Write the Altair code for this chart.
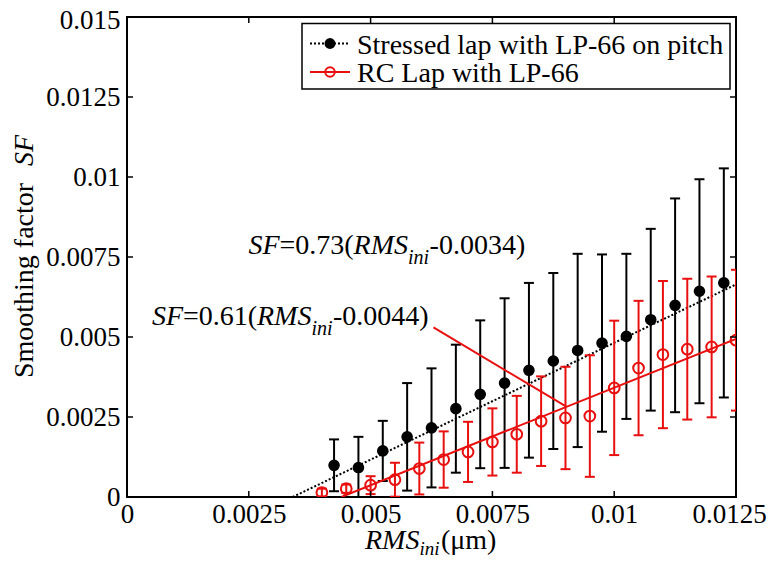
import altair as alt
import pandas as pd

# ---- data ----
black_x = [0.00425, 0.00475, 0.00525, 0.00575, 0.00625, 0.00675, 0.00725, 0.00775, 0.00825,
           0.00875, 0.00925, 0.00975, 0.01025, 0.01075, 0.01125, 0.01175, 0.01225]
black_y = [0.00099, 0.00092, 0.00144, 0.00188, 0.00216, 0.00276, 0.00321, 0.00356, 0.00396,
           0.00425, 0.00458, 0.00481, 0.00502, 0.00554, 0.00599, 0.00643, 0.00669]
black_err = [0.00081, 0.00096, 0.00094, 0.00168, 0.00186, 0.00200, 0.00231, 0.00265, 0.00273,
             0.00275, 0.00302, 0.00277, 0.00258, 0.00284, 0.00334, 0.00350, 0.00358]

red_x = [0.0040, 0.0045, 0.0050, 0.0055, 0.0060, 0.0065, 0.0070, 0.0075, 0.0080,
         0.0085, 0.0090, 0.0095, 0.0100, 0.0105, 0.0110, 0.0115, 0.0120, 0.0125]
red_y = [0.00014, 0.00026, 0.00037, 0.00054, 0.00089, 0.00117, 0.00141, 0.00172, 0.00196,
         0.00237, 0.00247, 0.00253, 0.00341, 0.00403, 0.00445, 0.00462, 0.00469, 0.00490]
red_err = [0.00012, 0.00013, 0.00028, 0.00053, 0.00081, 0.00088, 0.00094, 0.00105, 0.00120,
           0.00140, 0.00160, 0.00190, 0.00210, 0.00210, 0.00230, 0.00220, 0.00220, 0.00220]

# fitted lines (end points of SF = a (RMS - b))
fit_black_x = [0.0034, 0.0125]
fit_black_y = [0.0, 0.006643]
fit_red_x = [0.0044, 0.0125]
fit_red_y = [0.0, 0.004941]

# annotation pointer (from label to red fit line)
pointer = {"x1": 0.00629, "y1": 0.00530, "x2": 0.00901, "y2": 0.00283}

x_ticks = [0, 0.0025, 0.005, 0.0075, 0.01, 0.0125]
y_ticks = [0, 0.0025, 0.005, 0.0075, 0.01, 0.0125, 0.015]

legend_labels = ["Stressed lap with LP-66 on pitch", "RC Lap with LP-66"]

# ---- chart ----
FONT = "Liberation Serif, Times New Roman, Tinos, DejaVu Serif, serif"
W, H = 609, 480
RED = "#e8100f"

xscale = alt.Scale(domain=[0, 0.0125], nice=False, zero=False)
yscale = alt.Scale(domain=[0, 0.015], nice=False, zero=False)
xaxis = alt.Axis(values=x_ticks, format=".4~f", labelPadding=4, title=None,
                 labelOffset=alt.condition("datum.value > 0.012", alt.value(-7), alt.value(0)))
yaxis = alt.Axis(values=y_ticks, format=".4~f", labelPadding=7, title=None,
                 labelOffset=alt.condition("datum.value > 0.014", alt.value(3), alt.value(0)))


def X(f):
    return alt.X(f, type="quantitative", scale=xscale, axis=xaxis, title=None)


def Y(f):
    return alt.Y(f, type="quantitative", scale=yscale, axis=yaxis, title=None)


bdf = pd.DataFrame({"x": black_x, "y": black_y, "e": black_err})
bdf["lo"] = bdf["y"] - bdf["e"]
bdf["hi"] = bdf["y"] + bdf["e"]
rdf = pd.DataFrame({"x": red_x, "y": red_y, "e": red_err})
rdf["lo"] = rdf["y"] - rdf["e"]
rdf["hi"] = rdf["y"] + rdf["e"]

fb = pd.DataFrame({"x": fit_black_x, "y": fit_black_y})
fr = pd.DataFrame({"x": fit_red_x, "y": fit_red_y})


def errbars(df, color):
    bar = alt.Chart(df).mark_rule(color=color, strokeWidth=2, clip=True).encode(
        x=X("x"), y=Y("lo"), y2=alt.Y2("hi"))
    cap_hi = alt.Chart(df).mark_rule(color=color, strokeWidth=2, clip=True,
                                     xOffset=-5, x2Offset=5).encode(
        x=X("x"), x2=alt.X2("x"), y=Y("hi"))
    cap_lo = alt.Chart(df).mark_rule(color=color, strokeWidth=2, clip=True,
                                     xOffset=-5, x2Offset=5).encode(
        x=X("x"), x2=alt.X2("x"), y=Y("lo"))
    return [bar, cap_hi, cap_lo]


layers = []
# fit lines
layers.append(alt.Chart(fb).mark_line(color="black", strokeWidth=2, strokeDash=[2, 2], clip=True)
              .encode(x=X("x"), y=Y("y")))
layers += errbars(bdf, "black")
layers.append(alt.Chart(bdf).mark_point(filled=True, color="black", size=135, opacity=1, clip=True)
              .encode(x=X("x"), y=Y("y")))
layers.append(alt.Chart(fr).mark_line(color=RED, strokeWidth=2, clip=True)
              .encode(x=X("x"), y=Y("y")))
layers += errbars(rdf, RED)
layers.append(alt.Chart(rdf).mark_point(filled=False, color=RED, size=115, strokeWidth=2,
                                        opacity=1, clip=True)
              .encode(x=X("x"), y=Y("y")))

# pointer line
pdf = pd.DataFrame([pointer])
layers.append(alt.Chart(pdf).mark_rule(color=RED, strokeWidth=2)
              .encode(x=X("x1"), y=Y("y1"), x2=alt.X2("x2"), y2=alt.Y2("y2")))

# tick marks (inward, all four sides)
xt = pd.DataFrame({"t": x_ticks})
yt = pd.DataFrame({"t": y_ticks})
layers.append(alt.Chart(xt).mark_rule(color="black", strokeWidth=1.5)
              .encode(x=X("t"), y=alt.value(H), y2=alt.value(H - 6)))
layers.append(alt.Chart(xt).mark_rule(color="black", strokeWidth=1.5)
              .encode(x=X("t"), y=alt.value(0), y2=alt.value(6)))
layers.append(alt.Chart(yt).mark_rule(color="black", strokeWidth=1.5)
              .encode(y=Y("t"), x=alt.value(0), x2=alt.value(6)))
layers.append(alt.Chart(yt).mark_rule(color="black", strokeWidth=1.5)
              .encode(y=Y("t"), x=alt.value(W), x2=alt.value(W - 6)))


# equation labels (pieces with italic parts)
def eq_pieces(ax, ay, coef, off):
    d = pd.DataFrame({"x": [ax], "y": [ay]})
    parts = [("SF", 0, 0, True, 28), ("=" + coef + "(", 31, 0, False, 28),
             ("RMS", 105, 0, True, 28), ("ini", 159.5, 10, True, 20),
             ("-" + off + ")", 181, 0, False, 28)]
    out = []
    for txt, dx, dy, it, fs in parts:
        out.append(alt.Chart(d).mark_text(text=txt, dx=dx, dy=dy, align="left",
                                          baseline="alphabetic", font=FONT, fontSize=fs,
                                          fontStyle="italic" if it else "normal",
                                          color="black")
                   .encode(x=X("x"), y=Y("y")))
    return out


layers += eq_pieces(0.002495, 0.007606, "0.73", "0.0034")
layers += eq_pieces(0.000513, 0.005366, "0.61", "0.0044")

one = pd.DataFrame({"a": [0]})


def ptext(txt, x, y, size=28, italic=False, angle=0, align="left"):
    kw = dict(text=txt, align=align, baseline="alphabetic", font=FONT, fontSize=size,
              fontStyle="italic" if italic else "normal", color="black")
    if angle:
        kw["angle"] = angle
    return alt.Chart(one).mark_text(**kw).encode(x=alt.value(x), y=alt.value(y))


# axis titles
layers.append(ptext("RMS", 238, 531.5, italic=True))
layers.append(ptext("ini", 292.5, 538, size=19, italic=True))
layers.append(ptext("(\u03bcm)", 314, 531.5))
layers.append(ptext("Smoothing factor", -94, 263.5, angle=270, align="center"))
layers.append(ptext("SF", -94, 133.5, italic=True, angle=270, align="center"))

# legend
layers.append(alt.Chart(one).mark_rect(fill="white", stroke="black", strokeWidth=1.5)
              .encode(x=alt.value(175), x2=alt.value(603), y=alt.value(6.5), y2=alt.value(72)))
layers.append(alt.Chart(one).mark_rule(color="black", strokeWidth=2, strokeDash=[2, 2])
              .encode(x=alt.value(183), x2=alt.value(223), y=alt.value(26.5)))
layers.append(alt.Chart(one).mark_point(filled=True, color="black", size=120, opacity=1)
              .encode(x=alt.value(203), y=alt.value(26.5)))
layers.append(alt.Chart(one).mark_rule(color=RED, strokeWidth=2)
              .encode(x=alt.value(183), x2=alt.value(223), y=alt.value(55)))
layers.append(alt.Chart(one).mark_point(filled=False, color=RED, size=90, strokeWidth=2, opacity=1)
              .encode(x=alt.value(203), y=alt.value(55)))
layers.append(ptext(legend_labels[0], 230, 36.5))
layers.append(ptext(legend_labels[1], 230, 65))

chart = alt.layer(*layers).properties(
    width=W, height=H,
    autosize=alt.AutoSizeParams(type="none"),
    padding={"left": 119, "top": 9, "right": 31, "bottom": 58},
).configure_view(stroke="black", strokeWidth=2).configure_axis(
    labelFont=FONT, labelFontSize=27, labelColor="black", ticks=False, domain=False,
    grid=False, labelFlush=False, labelOverlap=False
)

chart.save("out.html", embed_options={"renderer": "svg", "actions": False})
